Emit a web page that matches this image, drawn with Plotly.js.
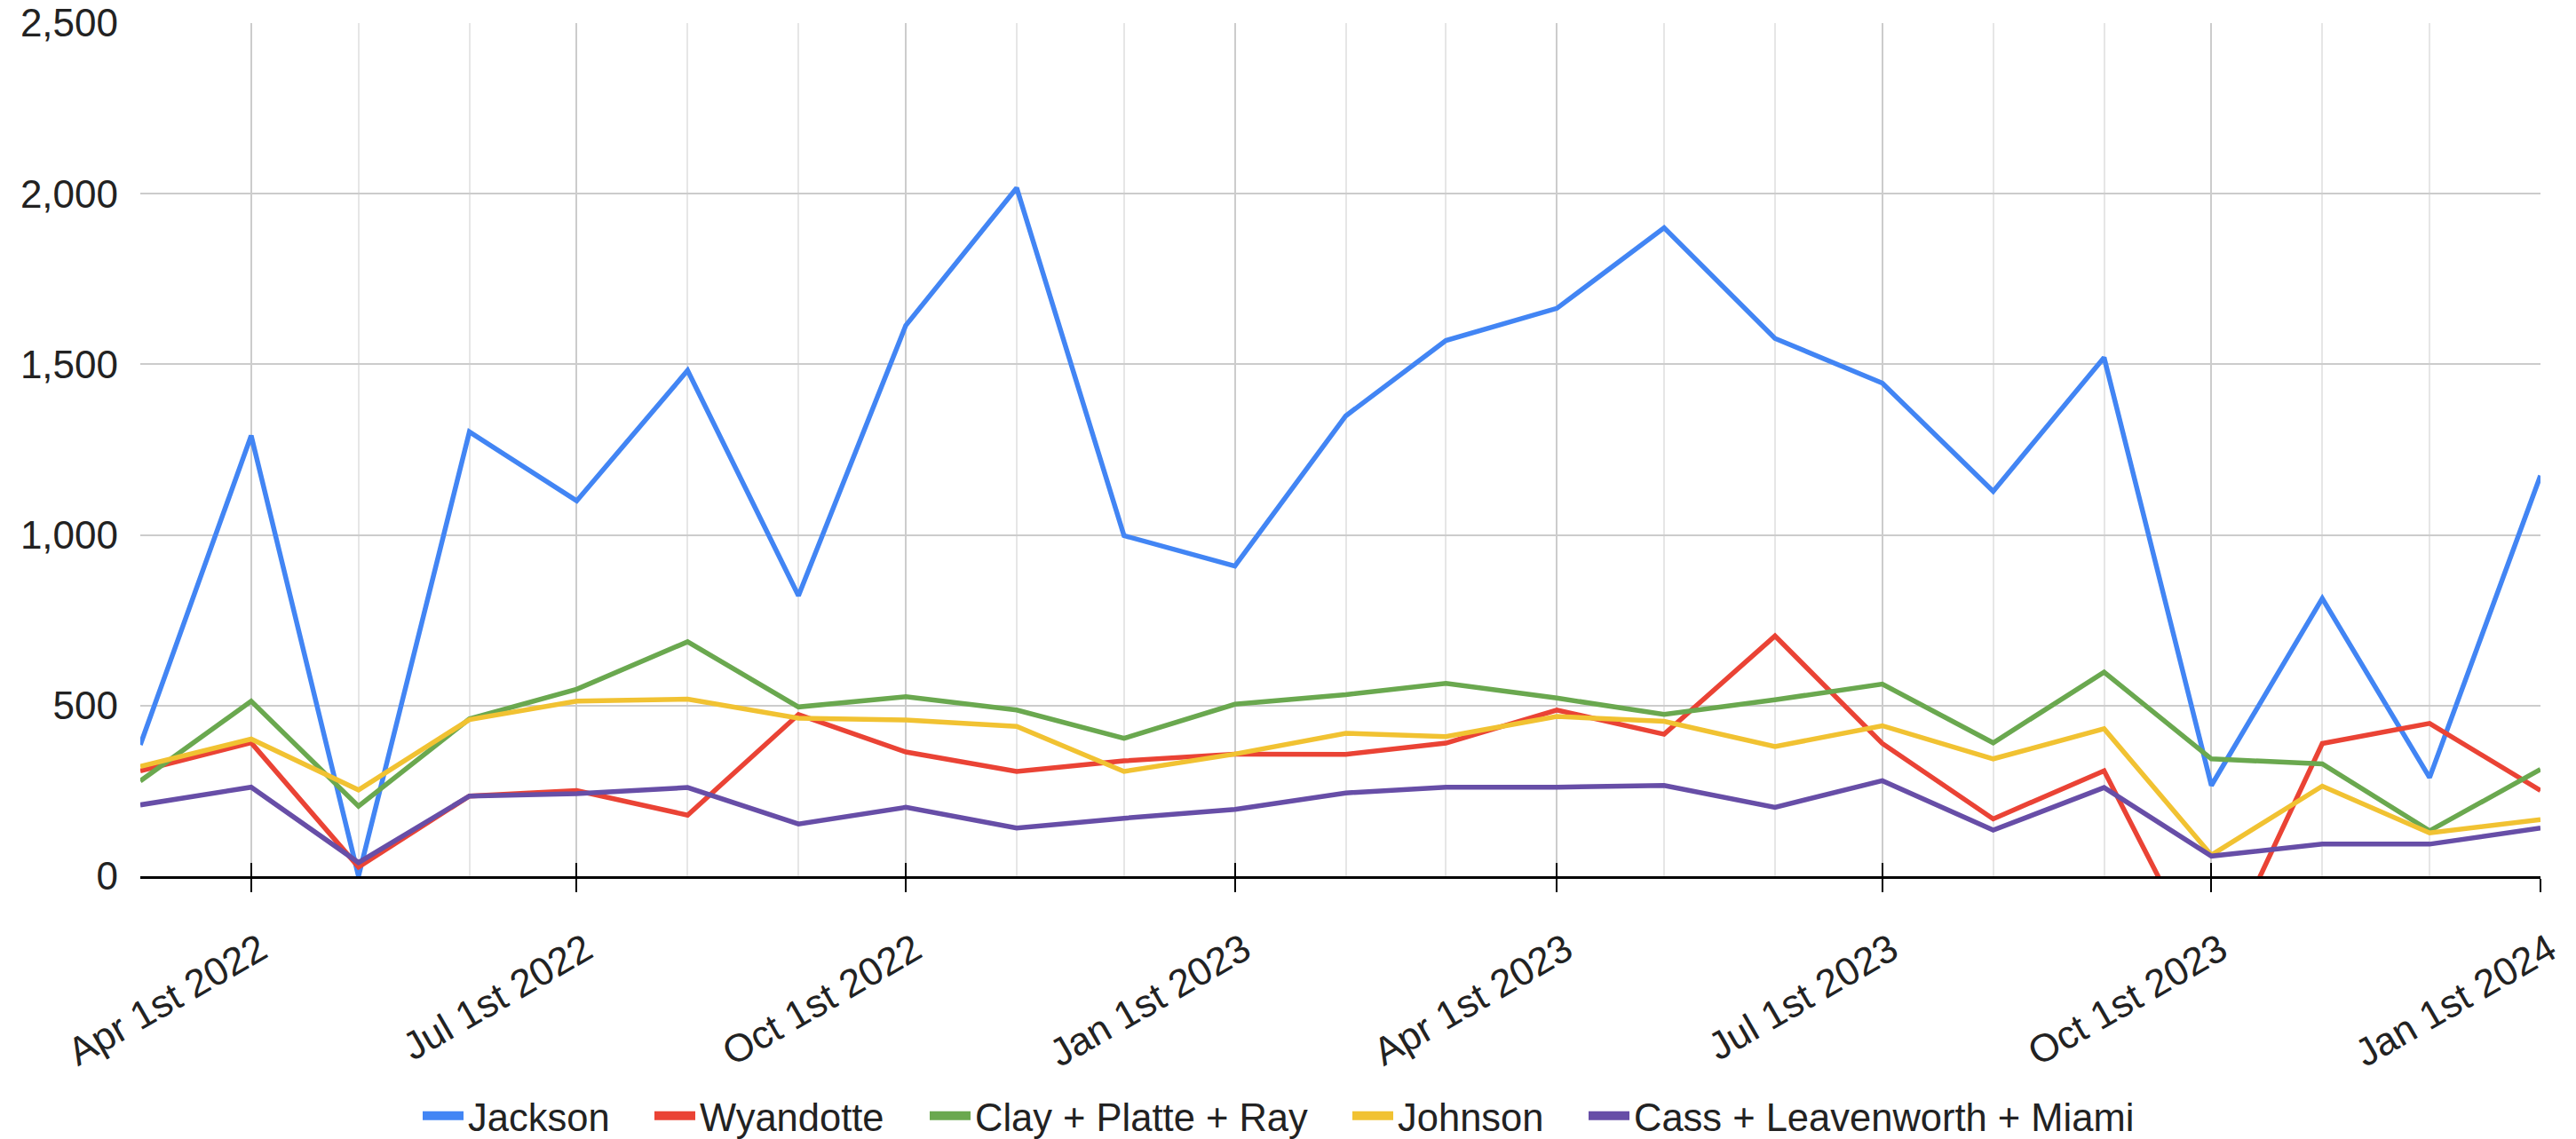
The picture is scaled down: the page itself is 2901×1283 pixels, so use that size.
<!DOCTYPE html>
<html>
<head>
<meta charset="utf-8">
<script src="https://cdn.plot.ly/plotly-3.0.1.min.js"></script>
<style>
  html, body { margin: 0; padding: 0; background: #ffffff; }
  #chart { width: 2901px; height: 1283px; }
</style>
</head>
<body>
<div id="chart"></div>
<script>
// ---- data ----
const months = [
  '2022-03-01','2022-04-01','2022-05-01','2022-06-01','2022-07-01','2022-08-01',
  '2022-09-01','2022-10-01','2022-11-01','2022-12-01','2023-01-01','2023-02-01',
  '2023-03-01','2023-04-01','2023-05-01','2023-06-01','2023-07-01','2023-08-01',
  '2023-09-01','2023-10-01','2023-11-01','2023-12-01','2024-01-01'
];
const jackson   = [385, 1291, 0, 1302, 1100, 1482, 822, 1614, 2017, 998, 909, 1349, 1570, 1664, 1900, 1576, 1445, 1128, 1520, 266, 814, 289, 1174];
const wyandotte = [309, 391, 27, 235, 251, 179, 474, 364, 307, 338, 358, 357, 390, 487, 416, 704, 389, 168, 309, -305, 389, 448, 251];
const clayPlatteRay = [279, 513, 205, 461, 548, 687, 496, 526, 487, 404, 504, 532, 565, 522, 474, 517, 563, 391, 598, 344, 329, 133, 313];
const johnson   = [322, 402, 253, 459, 513, 519, 463, 458, 439, 307, 358, 419, 409, 468, 454, 380, 441, 344, 432, 62, 264, 127, 166];
const cassLeavenworthMiami = [209, 261, 40, 235, 242, 260, 153, 202, 141, 170, 196, 244, 261, 261, 266, 202, 280, 135, 260, 59, 94, 94, 141];

const seriesNames = ['Jackson', 'Wyandotte', 'Clay + Platte + Ray', 'Johnson', 'Cass + Leavenworth + Miami'];
const seriesValues = [jackson, wyandotte, clayPlatteRay, johnson, cassLeavenworthMiami];
const seriesColors = ['#4285F4', '#EA4335', '#6AA84F', '#F1C232', '#674EA7'];

const tickDates  = ['2022-04-01','2022-07-01','2022-10-01','2023-01-01','2023-04-01','2023-07-01','2023-10-01','2024-01-01'];
const tickLabels = ['Apr 1st 2022','Jul 1st 2022','Oct 1st 2022','Jan 1st 2023','Apr 1st 2023','Jul 1st 2023','Oct 1st 2023','Jan 1st 2024'];
const yTicks = [0, 500, 1000, 1500, 2000, 2500];

// ---- layout constants ----
const FONT = 'Liberation Sans, Arial, Helvetica, sans-serif';
const AXIS_FONT_SIZE = 44;
const LEGEND_FONT_SIZE = 43.5;
const W = 2901, H = 1283;
const M = { l: 158, r: 40, t: 26, b: 296 };
const plotW = W - M.l - M.r;
// left pixel of each legend entry (legend text aligned to the reference)
const legendEntryPx = [472, 733, 1043, 1519, 1785];
const legendIds = ['legend', 'legend2', 'legend3', 'legend4', 'legend5'];

// ---- traces ----
const traces = [];
seriesNames.forEach((name, i) => {
  traces.push({
    type: 'scatter', mode: 'lines', name: name,
    x: months, y: seriesValues[i],
    line: { color: seriesColors[i], width: 5.5 },
    showlegend: false, hoverinfo: 'skip'
  });
});
// legend-only entries, one legend box each so spacing matches the reference
seriesNames.forEach((name, i) => {
  traces.push({
    type: 'scatter', mode: 'lines', name: name,
    x: [null], y: [null], xaxis: 'x2',
    line: { color: seriesColors[i], width: 12 },
    showlegend: true, legend: legendIds[i], hoverinfo: 'skip'
  });
});

const xRange = ['2022-03-01', '2024-01-01'];

const layout = {
  width: W, height: H,
  paper_bgcolor: '#ffffff', plot_bgcolor: '#ffffff',
  margin: { l: M.l, r: M.r, t: M.t, b: M.b, pad: 0, autoexpand: false },
  font: { family: FONT, size: AXIS_FONT_SIZE, color: '#222222' },
  showlegend: true,
  xaxis: {
    type: 'date', range: xRange, fixedrange: true,
    tickmode: 'array', tickvals: tickDates, ticktext: tickLabels,
    tickangle: -30, ticklabelstandoff: 22, ticklabelshift: 10,
    tickfont: { family: FONT, size: AXIS_FONT_SIZE, color: '#222222' },
    ticks: 'outside', ticklen: 15, tickwidth: 2, tickcolor: '#000000',
    showgrid: true, gridcolor: '#cccccc', gridwidth: 2,
    minor: { dtick: 'M1', tick0: '2022-03-01', showgrid: true, gridcolor: '#e6e6e6', gridwidth: 2, ticks: '' },
    showline: true, linecolor: '#000000', linewidth: 3,
    zeroline: false, automargin: false
  },
  xaxis2: {
    type: 'date', range: xRange, overlaying: 'x', anchor: 'y', side: 'bottom',
    tickmode: 'array', tickvals: tickDates, ticktext: tickLabels,
    showticklabels: false, ticks: 'inside', ticklen: 15, tickwidth: 2, tickcolor: '#000000',
    showgrid: false, showline: false, zeroline: false, fixedrange: true
  },
  yaxis: {
    range: [0, 2500], fixedrange: true,
    tickmode: 'array', tickvals: yTicks, tickformat: ',d',
    tickfont: { family: FONT, size: AXIS_FONT_SIZE, color: '#222222' },
    ticks: '', ticklabelstandoff: 24,
    showgrid: true, gridcolor: '#cccccc', gridwidth: 2,
    zeroline: false, showline: false, automargin: false
  }
};

legendIds.forEach((id, i) => {
  layout[id] = {
    orientation: 'h',
    xref: 'paper', x: (legendEntryPx[i] - 1 - M.l) / plotW, xanchor: 'left',
    yref: 'container', y: (H - 1257) / H, yanchor: 'middle',
    font: { family: FONT, size: LEGEND_FONT_SIZE, color: '#222222' },
    itemwidth: 46, bgcolor: 'rgba(0,0,0,0)', borderwidth: 0
  };
});

Plotly.newPlot('chart', traces, layout, { displayModeBar: false, staticPlot: true, responsive: false });
</script>
</body>
</html>
